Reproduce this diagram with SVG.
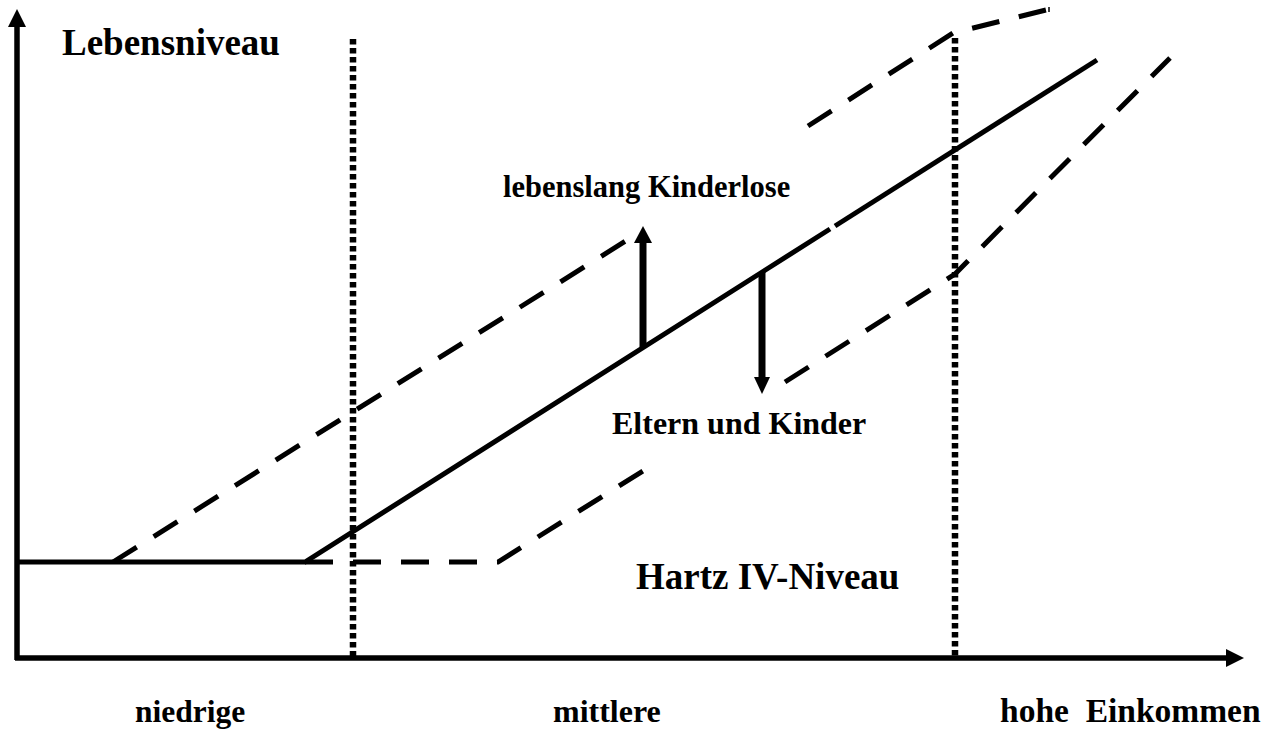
<svg xmlns="http://www.w3.org/2000/svg" width="1272" height="735" viewBox="0 0 1272 735">
<style>
.txt{font-family:"Liberation Serif","Times New Roman",serif;font-weight:bold;fill:#000}
.solid{stroke:#000;stroke-width:5;fill:none}
.dash{stroke:#000;stroke-width:5;fill:none;stroke-dasharray:28 20}
.dot{stroke:#000;stroke-width:6.5;fill:none;stroke-dasharray:5.5 3.5}
.axis{stroke:#000;stroke-width:5.5;fill:none}
</style>
<rect width="1272" height="735" fill="#fff"/>
<g id="axes">
<line class="axis" x1="17" y1="660" x2="17" y2="24"/>
<polygon points="8,27 26,27 17,9"/>
<line class="axis" x1="15" y1="658" x2="1228" y2="658"/>
<polygon points="1226,649 1226,667 1244,658"/>
</g>
<g id="dividers">
<line class="dot" x1="353" y1="39" x2="353" y2="656"/>
<line class="dot" x1="955" y1="38" x2="955" y2="656"/>
</g>
<g id="connectors">
<polyline class="solid" points="17,562 305,562 830,229"/>
<line class="solid" x1="835" y1="226" x2="1097" y2="60"/>
<line class="dash" x1="113" y1="562" x2="640" y2="232"/>
<polyline class="dash" points="808,126 953,33 1050,9"/>
<line stroke="#000" stroke-width="1.5" x1="1049" y1="7" x2="1049" y2="12"/>
<polyline class="dash" points="305,562 498,562 646,469"/>
<polyline class="dash" points="785,382 955,274 1170,58"/>
</g>
<g id="arrow-up">
<line stroke="#000" stroke-width="7" x1="643" y1="347" x2="643" y2="240"/>
<polygon points="634,243 652,243 643,226"/>
</g>
<g id="arrow-down">
<line stroke="#000" stroke-width="7" x1="762" y1="272" x2="762" y2="380"/>
<polygon points="754,377 770,377 762,394"/>
</g>
<g id="labels">
<text class="txt" x="62" y="55" font-size="37">Lebensniveau</text>
<text class="txt" x="503" y="197" font-size="30.5">lebenslang Kinderlose</text>
<text class="txt" x="612" y="434" font-size="32">Eltern und Kinder</text>
<text class="txt" x="636" y="589" font-size="37">Hartz IV-Niveau</text>
<text class="txt" x="135" y="722" font-size="31.5">niedrige</text>
<text class="txt" x="553" y="722" font-size="32">mittlere</text>
<text class="txt" x="1000" y="722" font-size="33.5" xml:space="preserve">hohe  Einkommen</text>
</g>
</svg>
